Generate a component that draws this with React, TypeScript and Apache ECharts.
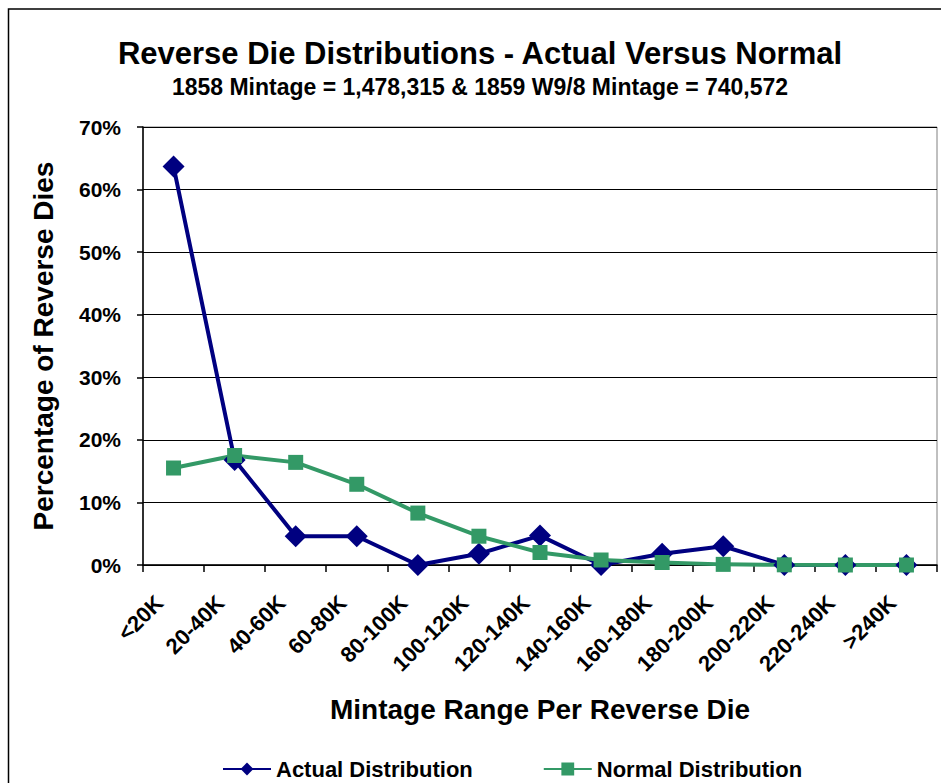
import React, { useEffect, useRef } from "react";
import * as echarts from "echarts";

const categories = ["<20K", "20-40K", "40-60K", "60-80K", "80-100K", "100-120K", "120-140K", "140-160K", "160-180K", "180-200K", "200-220K", "220-240K", ">240K"];
const actualValues = [63.7, 16.8, 4.6, 4.6, 0, 1.8, 4.7, 0, 1.8, 3.0, 0, 0, 0];
const normalValues = [15.5, 17.5, 16.4, 12.9, 8.3, 4.6, 2.0, 0.8, 0.4, 0.1, 0.03, 0, 0];
const titleText = "Reverse Die Distributions - Actual Versus Normal";
const subtitleText = "1858 Mintage = 1,478,315 & 1859 W9/8 Mintage = 740,572";
const xAxisName = "Mintage Range Per Reverse Die";
const yAxisName = "Percentage of Reverse Dies";
const seriesNames = ["Actual Distribution", "Normal Distribution"];

const FONT = "'Liberation Sans', Arial, sans-serif";

export default function App() {
  const ref = useRef<HTMLDivElement>(null);
  useEffect(() => {
    if (!ref.current) return;
    const chart = echarts.init(ref.current, null, { renderer: "svg" });
    chart.setOption({
      animation: false,
      backgroundColor: "#ffffff",
      textStyle: { fontFamily: FONT },
      title: [
        {
          text: titleText,
          left: 480,
          top: 38,
          textAlign: "center",
          padding: 0,
          textStyle: { fontFamily: FONT, fontSize: 31, fontWeight: "bold", color: "#000" },
        },
        {
          text: subtitleText,
          left: 480,
          top: 75,
          textAlign: "center",
          padding: 0,
          textStyle: { fontFamily: FONT, fontSize: 23, fontWeight: "bold", color: "#000" },
        },
      ],
      graphic: [
        {
          type: "rect",
          shape: { x: 8.5, y: 9, width: 940, height: 800 },
          style: { fill: "none", stroke: "#000", lineWidth: 1.5 },
          silent: true,
        },
      ],
      legend: {
        left: 222,
        top: 758,
        itemWidth: 48,
        itemHeight: 16,
        itemGap: 70,
        padding: 0,
        textStyle: { fontFamily: FONT, fontSize: 22, fontWeight: "bold", color: "#000" },
        data: seriesNames,
      },
      grid: {
        left: 143,
        right: 4,
        top: 127,
        bottom: 218,
        show: true,
        borderColor: "#808080",
        borderWidth: 1,
        backgroundColor: "#fff",
      },
      xAxis: {
        type: "category",
        data: categories,
        boundaryGap: true,
        name: xAxisName,
        nameLocation: "middle",
        nameGap: 130,
        nameTextStyle: { fontFamily: FONT, fontSize: 28, fontWeight: "bold", color: "#000" },
        axisLine: { show: true, lineStyle: { color: "#000", width: 1.5 } },
        axisTick: { show: true, alignWithLabel: false, length: 7, lineStyle: { color: "#000", width: 1.5 } },
        axisLabel: {
          rotate: 45,
          interval: 0,
          margin: 20,
          padding: [0, 20, 0, 0],
          fontFamily: FONT,
          fontSize: 22,
          fontWeight: "bold",
          color: "#000",
        },
        splitLine: { show: false },
      },
      yAxis: {
        type: "value",
        min: 0,
        max: 70,
        interval: 10,
        name: yAxisName,
        nameLocation: "middle",
        nameGap: 86,
        nameTextStyle: { fontFamily: FONT, fontSize: 28, fontWeight: "bold", color: "#000" },
        axisLine: { show: true, lineStyle: { color: "#000", width: 1.5 } },
        axisTick: { show: true, length: 6, lineStyle: { color: "#000", width: 1.5 } },
        axisLabel: {
          formatter: "{value}%",
          margin: 22,
          fontFamily: FONT,
          fontSize: 21,
          fontWeight: "bold",
          color: "#000",
        },
        splitLine: { show: true, lineStyle: { color: "#000", width: 1 } },
      },
      series: [
        {
          name: seriesNames[0],
          type: "line",
          data: actualValues,
          symbol: "diamond",
          symbolSize: [22, 22],
          lineStyle: { color: "#000080", width: 4 },
          itemStyle: { color: "#000080" },
        },
        {
          name: seriesNames[1],
          type: "line",
          data: normalValues,
          symbol: "rect",
          symbolSize: 15,
          lineStyle: { color: "#339966", width: 4 },
          itemStyle: { color: "#339966" },
        },
      ],
    });
    return () => chart.dispose();
  }, []);
  return <div ref={ref} style={{ position: "fixed", left: 0, top: 0, width: 941, height: 783 }} />;
}
